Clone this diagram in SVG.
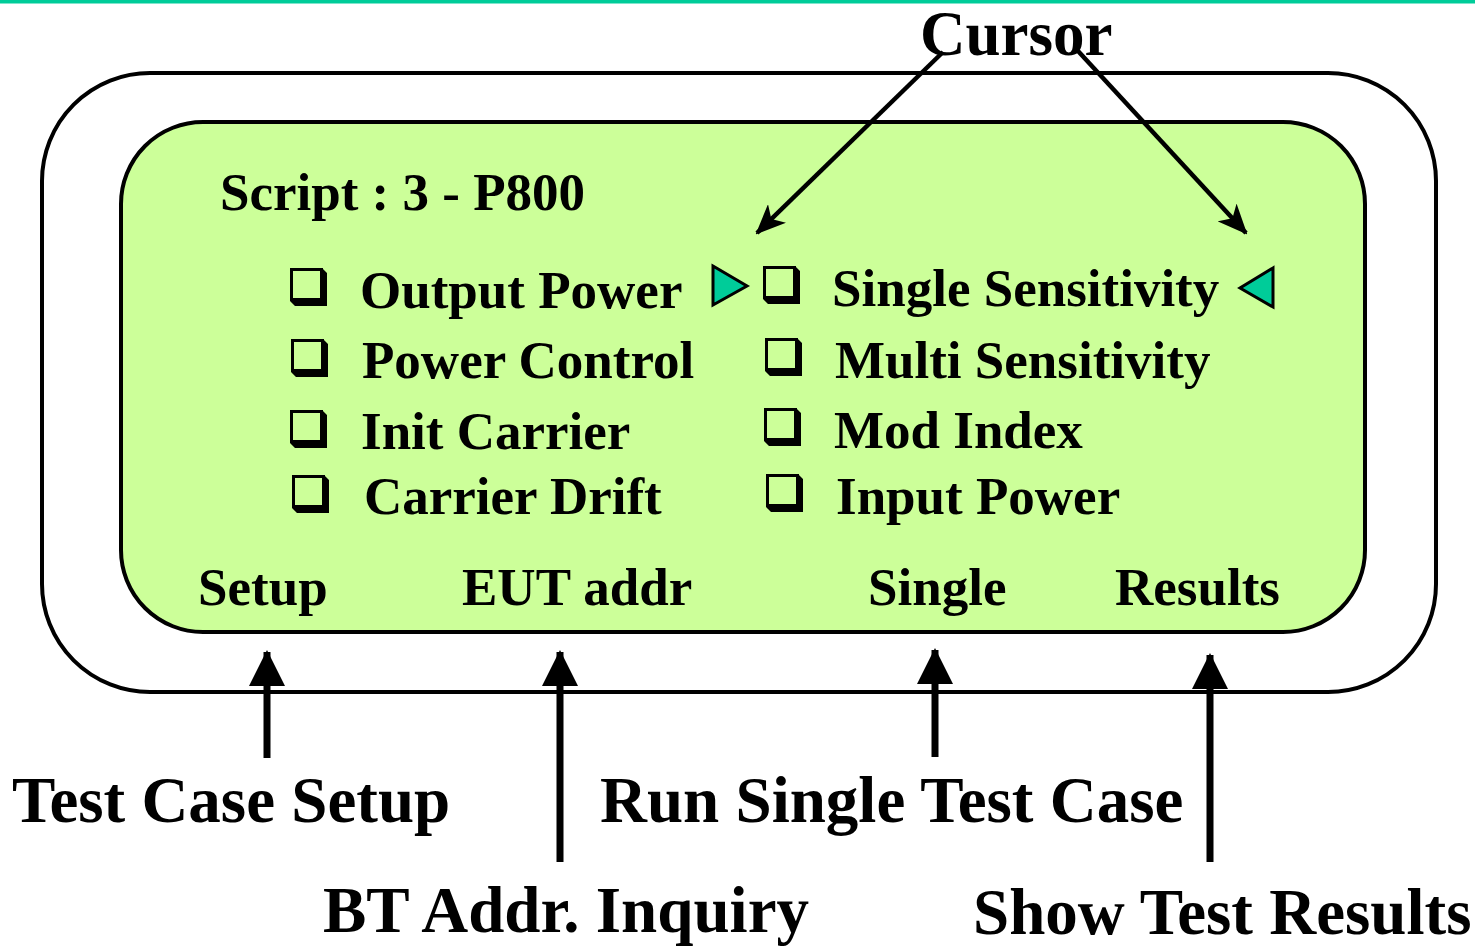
<svg xmlns="http://www.w3.org/2000/svg" width="1475" height="946" viewBox="0 0 1475 946">
  <style>
    .t { font-family: "Liberation Serif", "Times New Roman", serif; font-weight: bold; fill: #000; }
    .item { font-size: 53px; }
    .big { font-size: 65px; }
    .frame { fill: none; stroke: #000; stroke-width: 4; }
    .screen { fill: #CCFF99; stroke: #000; stroke-width: 4; }
    .ptr { fill: #00CC99; stroke: #000; stroke-width: 3; stroke-linejoin: miter; }
    .thin { stroke: #000; stroke-width: 4.5; fill: none; }
    .thick { stroke: #000; stroke-width: 7; fill: none; }
  </style>
  <defs>
    <!-- shadowed check box -->
    <g id="box">
      <path d="M32,0 L37,5 L37,38 L5,38 L0,33 L32,33 Z" fill="#000"/>
      <rect x="1.5" y="1.5" width="30" height="30" fill="none" stroke="#000" stroke-width="3"/>
    </g>
    <marker id="barb" viewBox="0 0 30 26" refX="28" refY="13" markerWidth="30" markerHeight="26" markerUnits="userSpaceOnUse" orient="auto">
      <path d="M0,0 L30,13 L0,26 L8,13 Z" fill="#000"/>
    </marker>
    <marker id="head" viewBox="0 0 36 36" refX="34" refY="18" markerWidth="36" markerHeight="36" markerUnits="userSpaceOnUse" orient="auto">
      <path d="M0,0 L36,18 L0,36 Z" fill="#000"/>
    </marker>
  </defs>

  <!-- top rule -->
  <rect x="0" y="0" width="1475" height="3.5" fill="#00CC99"/>

  <!-- device body -->
  <g id="device">
    <rect class="frame" x="42" y="73" width="1394" height="619" rx="108" ry="108"/>
  </g>

  <!-- display -->
  <g id="display">
    <rect class="screen" x="121" y="122" width="1244" height="510" rx="82" ry="82"/>
    <text class="t item" x="220" y="210">Script : 3 - P800</text>
  </g>

  <!-- left column tests -->
  <g id="test-output-power">
    <use href="#box" x="290" y="268"/>
    <text class="t item" x="360" y="308">Output Power</text>
  </g>
  <g id="test-power-control">
    <use href="#box" x="291" y="339"/>
    <text class="t item" x="362" y="378">Power Control</text>
  </g>
  <g id="test-init-carrier">
    <use href="#box" x="290" y="410"/>
    <text class="t item" x="361" y="449">Init Carrier</text>
  </g>
  <g id="test-carrier-drift">
    <use href="#box" x="292" y="475"/>
    <text class="t item" x="364" y="514">Carrier Drift</text>
  </g>

  <!-- right column tests -->
  <g id="test-single-sensitivity">
    <use href="#box" x="763" y="266"/>
    <text class="t item" x="832" y="306">Single Sensitivity</text>
  </g>
  <g id="test-multi-sensitivity">
    <use href="#box" x="765" y="338"/>
    <text class="t item" x="835" y="378">Multi Sensitivity</text>
  </g>
  <g id="test-mod-index">
    <use href="#box" x="764" y="408"/>
    <text class="t item" x="834" y="448">Mod Index</text>
  </g>
  <g id="test-input-power">
    <use href="#box" x="766" y="474"/>
    <text class="t item" x="836" y="514">Input Power</text>
  </g>

  <!-- selection pointers -->
  <g id="pointers">
    <path class="ptr" d="M713,266 L747,286 L713,305 Z"/>
    <path class="ptr" d="M1273,268 L1240,288 L1273,307 Z"/>
  </g>

  <!-- soft keys -->
  <g id="key-setup"><text class="t item" x="198" y="605">Setup</text></g>
  <g id="key-eut"><text class="t item" x="462" y="605">EUT addr</text></g>
  <g id="key-single"><text class="t item" x="868" y="605">Single</text></g>
  <g id="key-results"><text class="t item" x="1115" y="605">Results</text></g>

  <!-- callout labels -->
  <g id="label-cursor"><text class="t" x="920" y="55" font-size="63">Cursor</text></g>
  <g id="label-setup"><text class="t big" x="12" y="822">Test Case Setup</text></g>
  <g id="label-run"><text class="t big" x="600" y="822">Run Single Test Case</text></g>
  <g id="label-bt"><text class="t big" x="323" y="932">BT Addr. Inquiry</text></g>
  <g id="label-show"><text class="t big" x="973" y="934">Show Test Results</text></g>

  <!-- connectors -->
  <g id="connectors">
    <line class="thin" x1="943" y1="52" x2="757" y2="233" marker-end="url(#barb)"/>
    <line class="thin" x1="1078" y1="51" x2="1246" y2="233" marker-end="url(#barb)"/>
    <line class="thick" x1="267" y1="758" x2="267" y2="652" marker-end="url(#head)"/>
    <line class="thick" x1="560" y1="862" x2="560" y2="652" marker-end="url(#head)"/>
    <line class="thick" x1="935" y1="757" x2="935" y2="650" marker-end="url(#head)"/>
    <line class="thick" x1="1210" y1="862" x2="1210" y2="655" marker-end="url(#head)"/>
  </g>
</svg>
